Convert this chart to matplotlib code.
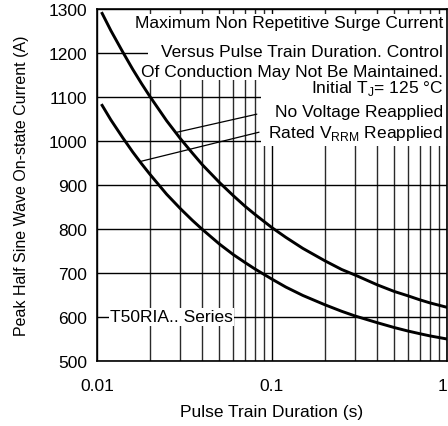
import matplotlib
matplotlib.use("Agg")
import matplotlib.pyplot as plt
from matplotlib.patches import Rectangle
from matplotlib.ticker import FixedLocator, NullFormatter

plt.rcParams['font.family'] = ['Liberation Sans', 'DejaVu Sans']

# ---- data ----
dur = [0.0107, 0.012, 0.014, 0.016, 0.018, 0.02, 0.025, 0.03, 0.035, 0.04, 0.05, 0.06,
       0.07, 0.08, 0.1, 0.12, 0.15, 0.2, 0.25, 0.3, 0.4, 0.5, 0.6, 0.7, 0.8, 1.0]
cur_no_v = [1290, 1251, 1203, 1163, 1130, 1102, 1046, 1005, 973, 946, 906, 876,
            852, 833, 803, 781, 756, 728, 708, 695, 673, 658, 648, 639, 632, 622]
cur_rated = [1081, 1048, 1008, 975, 948, 925, 879, 846, 820, 799, 766, 742,
             724, 709, 686, 668, 649, 628, 613, 602, 587, 576, 568, 562, 557, 550]

y_ticks = [500, 600, 700, 800, 900, 1000, 1100, 1200, 1300]
x_ticks = [0.01, 0.1, 1]
x_tick_labels = ["0.01", "0.1", "1"]
x_minor = [m * d for d in (0.01, 0.1) for m in range(2, 10)]

title_lines = ["Maximum Non Repetitive Surge Current",
               "Versus Pulse Train Duration. Control",
               "Of Conduction May Not Be Maintained."]
cond_text = "Initial T$_{\\mathregular{J}}$= 125 \u00b0C"
label_no_v = "No Voltage Reapplied"
label_rated = "Rated V$_{\\mathregular{RRM}}$ Reapplied"
series_text = "T50RIA.. Series"

fig = plt.figure(figsize=(4.48, 4.27), dpi=100)
ax = fig.add_axes([97/448, 1-362/427, 350/448, 352/427])
ax.set_xscale('log')
ax.set_xlim(0.01, 1)
ax.set_ylim(500, 1300)

ax.xaxis.set_major_locator(FixedLocator(x_ticks))
ax.set_xticklabels(x_tick_labels)
ax.xaxis.set_minor_locator(FixedLocator(x_minor))
ax.xaxis.set_minor_formatter(NullFormatter())
ax.set_yticks(y_ticks)
ax.tick_params(axis='both', which='both', length=0, labelsize=12.5)
ax.tick_params(axis='y', pad=7)
ax.tick_params(axis='x', pad=12)
ax.get_xticklabels()[-1].set_horizontalalignment('right')

ax.grid(True, which='major', axis='both', color='black', lw=1.0, zorder=1)
ax.grid(True, which='minor', axis='x', color='#2a2a2a', lw=1.0, zorder=1)
ax.set_axisbelow(True)
for s in ax.spines.values():
    s.set_linewidth(1.2)
    s.set_zorder(6)

# white backgrounds of the annotation blocks
ax.add_patch(Rectangle(((148-97)/350, (362-77)/352), 1-(148-97)/350, (77-15)/352,
                       transform=ax.transAxes, facecolor='white', edgecolor='none', zorder=2))
ax.add_patch(Rectangle(((261-97)/350, (362-147)/352), 1-(261-97)/350, (147-77)/352,
                       transform=ax.transAxes, facecolor='white', edgecolor='none', zorder=2))

ax.plot(dur, cur_no_v, color='black', lw=2.1, zorder=4)
ax.plot(dur, cur_rated, color='black', lw=2.1, zorder=4)

fs = 12.5
xr = (443-97)/350
for txt, ypx in zip(title_lines, [24, 53, 73]):
    ax.text(xr, (362-ypx)/352, txt, transform=ax.transAxes, ha='right', va='center',
            fontsize=fs, zorder=3,
            bbox=dict(facecolor='white', edgecolor='none', pad=0.5))
ax.text(xr, (362-89)/352, cond_text, transform=ax.transAxes, ha='right', va='center',
        fontsize=fs, zorder=3)
ax.text(xr, (362-113)/352, label_no_v, transform=ax.transAxes, ha='right', va='center',
        fontsize=fs, zorder=3)
ax.text(xr, (362-134)/352, label_rated, transform=ax.transAxes, ha='right', va='center',
        fontsize=fs, zorder=3)

# leader lines
ax.annotate('', xy=(0.0287, 1020), xytext=(0.0819, 1061),
            arrowprops=dict(arrowstyle='-', color='black', lw=0.9, shrinkA=0, shrinkB=0), zorder=3)
ax.annotate('', xy=(0.0179, 954), xytext=(0.0843, 1020),
            arrowprops=dict(arrowstyle='-', color='black', lw=0.9, shrinkA=0, shrinkB=0), zorder=3)

ax.text(0.0119, 600, series_text, ha='left', va='center', fontsize=fs, zorder=3,
        bbox=dict(facecolor='white', edgecolor='none', pad=1.0))

ax.set_xlabel("Pulse Train Duration (s)", fontsize=12.5)
ax.xaxis.set_label_coords(0.5, (362-405)/352)
ax.set_ylabel("Peak Half Sine Wave On-state Current (A)", fontsize=11.5)
ax.yaxis.set_label_coords((29-97)/350, 0.5)

fig.savefig("out.png", dpi=100)
